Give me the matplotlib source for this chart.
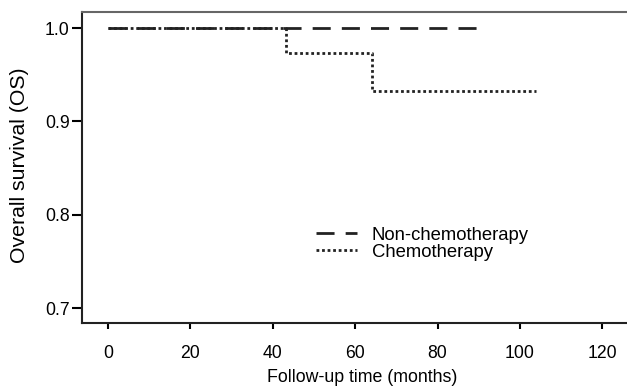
import matplotlib
matplotlib.use("Agg")
import matplotlib.pyplot as plt

plt.rcParams['font.family'] = ['Liberation Sans', 'DejaVu Sans']

# Kaplan-Meier step data
nonchemo_t = [0, 90]
nonchemo_s = [1.0, 1.0]
chemo_t = [0, 43.3, 64.2, 104]
chemo_s = [1.0, 0.973, 0.933, 0.933]

xticks = [0, 20, 40, 60, 80, 100, 120]
yticks = [0.7, 0.8, 0.9, 1.0]

fig = plt.figure(figsize=(6.27, 3.86), dpi=100)
ax = fig.add_axes([0.1308, 0.1632, 0.8692, 0.8049])

ax.step(chemo_t, chemo_s, where='post', color='#222222', lw=2,
        linestyle=(0, (1, 1)), label='Chemotherapy')
ax.step(nonchemo_t, nonchemo_s, where='post', color='#222222', lw=2,
        linestyle=(0, (6.5, 4)), label='Non-chemotherapy')

ax.set_xlim(-6.3, 126)
ax.set_ylim(0.684, 1.017)
ax.set_xticks(xticks)
ax.set_yticks(yticks)
ax.set_yticklabels(['%.1f' % v for v in yticks])
ax.tick_params(axis='x', length=4, width=1.5, labelsize=12.7, pad=12)
ax.tick_params(axis='y', length=7, width=1.5, labelsize=12.7, pad=2)

ax.set_xlabel('Follow-up time (months)', fontsize=12.8, va='center')
ax.xaxis.set_label_coords(0.514, -0.174)
ax.set_ylabel('Overall survival (OS)', fontsize=15.3, va='center')
ax.yaxis.set_label_coords(-0.114, 0.508)

for s in ['left', 'bottom']:
    ax.spines[s].set_linewidth(1.5)
    ax.spines[s].set_color('#222222')
ax.spines['top'].set_color('#666666')
ax.spines['top'].set_linewidth(1.5)
ax.spines['right'].set_visible(False)

h, l = ax.get_legend_handles_labels()
ax.legend(h[::-1], l[::-1], loc='upper left', bbox_to_anchor=(0.413, 0.34),
          frameon=False, fontsize=13.3, handlelength=2.2, handletextpad=0.8,
          labelspacing=0.0, borderpad=0)

fig.savefig('out.png', dpi=100)
